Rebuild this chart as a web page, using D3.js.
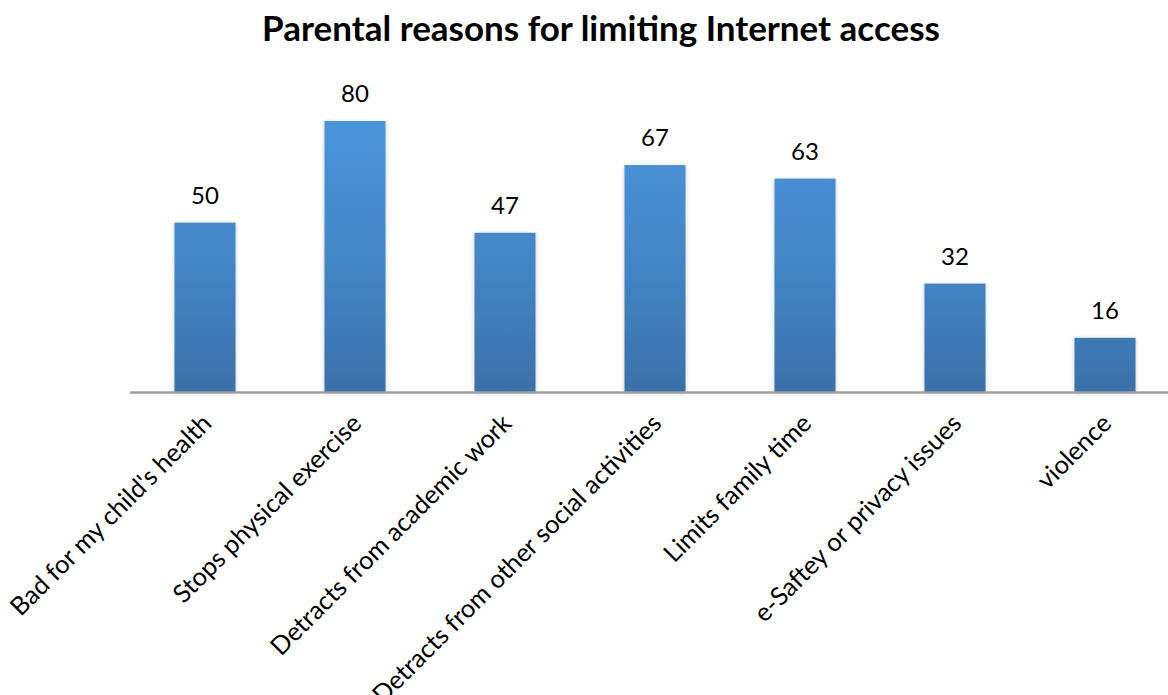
<!DOCTYPE html>
<html>
<head>
<meta charset="utf-8">
<script src="https://cdn.jsdelivr.net/npm/d3@7"></script>
<style>
  html, body { margin: 0; padding: 0; background: #ffffff; }
  svg { display: block; font-family: Lato, "Open Sans", sans-serif; }
</style>
</head>
<body>
<svg id="chart" width="1168" height="695"></svg>
<script>
// Reasons parents gave for limiting their children's Internet use
const categories = [
  "Bad for my child's health",
  "Stops physical exercise",
  "Detracts from academic work",
  "Detracts from other social activities",
  "Limits family time",
  "e-Saftey or privacy issues",
  "violence"
];
const counts = [50, 80, 47, 67, 63, 32, 16];
const chartTitle = "Parental reasons for limiting Internet access";

const svg = d3.select("#chart");
const baseY = 392;

const x = d3.scaleBand()
  .domain(categories)
  .range([130, 1180])
  .paddingInner(0.593)
  .paddingOuter(0.2965);

const y = d3.scaleLinear()
  .domain([0, 80])
  .range([baseY, 121]);

// vertical gradient for the bars
const defs = svg.append("defs");
const grad = defs.append("linearGradient")
  .attr("id", "barGrad")
  .attr("gradientUnits", "userSpaceOnUse")
  .attr("x1", 0).attr("x2", 0)
  .attr("y1", y(80)).attr("y2", baseY);
grad.append("stop").attr("offset", "0%").attr("stop-color", "#4a94da");
grad.append("stop").attr("offset", "55%").attr("stop-color", "#4385c6");
grad.append("stop").attr("offset", "100%").attr("stop-color", "#3a70a9");

const shadow = defs.append("filter").attr("id", "barShadow")
  .attr("x", "-20%").attr("y", "-10%").attr("width", "140%").attr("height", "120%");
shadow.append("feDropShadow")
  .attr("dx", 0).attr("dy", 1).attr("stdDeviation", 2)
  .attr("flood-color", "#000").attr("flood-opacity", 0.22);

// title, sized to its natural width
const title = svg.append("text")
  .attr("x", 601)
  .attr("y", 41)
  .attr("text-anchor", "middle")
  .attr("font-weight", "bold")
  .attr("font-size", 30)
  .attr("fill", "#000")
  .text(chartTitle);
const tw = title.node().getComputedTextLength();
title.attr("font-size", 30 * 678 / tw);

// bars
svg.append("g")
  .selectAll("rect")
  .data(categories)
  .join("rect")
  .attr("x", d => x(d))
  .attr("width", x.bandwidth())
  .attr("y", (d, i) => y(counts[i]))
  .attr("height", (d, i) => baseY - y(counts[i]))
  .attr("fill", "url(#barGrad)")
  .attr("filter", "url(#barShadow)");

// category axis
const xAxis = d3.axisBottom(x).tickSize(0).tickPadding(0);
const gx = svg.append("g")
  .attr("transform", `translate(0,${baseY})`)
  .call(xAxis);
gx.select(".domain")
  .attr("d", `M130,0.5H1168`)
  .attr("stroke", "#a0a0a0")
  .attr("stroke-width", 2.5);
const tickText = gx.selectAll(".tick text")
  .attr("font-family", "Lato, 'Open Sans', sans-serif")
  .attr("font-size", 22)
  .attr("fill", "#000")
  .attr("text-anchor", "end")
  .attr("dy", 0)
  .attr("y", 0)
  .attr("transform", "translate(8,33) rotate(-45)");
// scale the label size so the first label spans its usual length
const firstLen = tickText.nodes()[0].getComputedTextLength();
const labelSize = 22 * 272 / firstLen;
tickText.attr("font-size", labelSize);

// value labels
svg.append("g")
  .selectAll("text")
  .data(categories)
  .join("text")
  .attr("x", d => x(d) + x.bandwidth() / 2)
  .attr("y", (d, i) => y(counts[i]) - 19)
  .attr("text-anchor", "middle")
  .attr("font-size", 24)
  .attr("fill", "#000")
  .text((d, i) => counts[i]);
</script>
</body>
</html>
